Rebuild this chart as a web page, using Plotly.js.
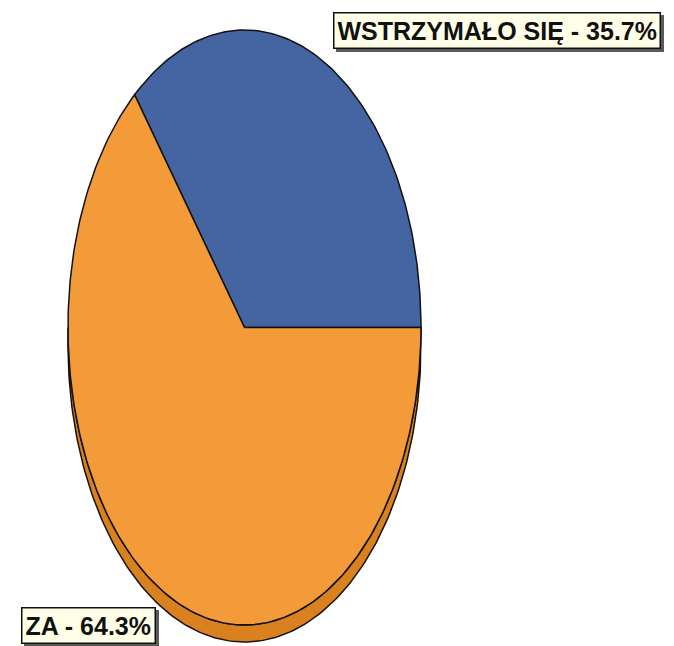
<!DOCTYPE html>
<html><head><meta charset="utf-8">
<script src="https://cdn.plot.ly/plotly-3.0.1.min.js"></script>
<style>html,body{margin:0;padding:0;background:#fff;}</style>
</head><body><div id="chart" style="width:674px;height:646px;"></div>
<script>
// ---- data ----
const labels = ['WSTRZYMAŁO SIĘ', 'ZA'];
const values = [35.7, 64.3];

// ---- style / geometry ----
const colors = ['#4464A2', '#F29B38'];
const rimColor = '#D9801F';
const CX = 244.5, CY = 327.5, RX = 176.5, RY = 297.5, DEPTH = 17;
const FONT = '"Liberation Sans Narrow", "Arial Narrow", "Liberation Sans", Arial, sans-serif';

function pt(deg, dy) {
  const t = deg * Math.PI / 180;
  return [CX + RX * Math.cos(t), CY - RY * Math.sin(t) + (dy || 0)];
}

const total = values.reduce((a, b) => a + b, 0);
const traces = [];

// rim (front half, below the top face)
{
  const xs = [], ys = [];
  for (let a = 180; a <= 360; a += 1) { const p = pt(a, 0); xs.push(p[0]); ys.push(p[1]); }
  for (let a = 360; a >= 180; a -= 1) { const p = pt(a, DEPTH); xs.push(p[0]); ys.push(p[1]); }
  xs.push(xs[0]); ys.push(ys[0]);
  traces.push({type: 'scatter', mode: 'lines', x: xs, y: ys, fill: 'toself',
    fillcolor: rimColor, line: {color: '#1a1008', width: 1.5}, hoverinfo: 'skip', showlegend: false});
}

// slices (counter-clockwise from 3 o'clock)
let start = 0;
values.forEach((v, i) => {
  const sweep = v / total * 360;
  const xs = [CX], ys = [CY];
  const n = Math.max(2, Math.ceil(sweep));
  for (let k = 0; k <= n; k++) {
    const p = pt(start + sweep * k / n, 0);
    xs.push(p[0]); ys.push(p[1]);
  }
  xs.push(CX); ys.push(CY);
  traces.push({type: 'scatter', mode: 'lines', x: xs, y: ys, fill: 'toself',
    fillcolor: colors[i], line: {color: '#111', width: 1.5}, name: labels[i],
    hoverinfo: 'name', showlegend: false});
  start += sweep;
});

// labels
const labelPos = [
  {x: 497, y: 30.5},
  {x: 88.5, y: 625.5}
];
const annotations = labels.map((lab, i) => ({
  xref: 'x', yref: 'y', showarrow: false, xanchor: 'center', yanchor: 'middle',
  x: labelPos[i].x, y: labelPos[i].y,
  text: lab + ' - ' + values[i].toFixed(1) + '%',
  font: {family: FONT, size: 25, color: '#111', weight: 'bold'},
  borderpad: 3, borderwidth: 1.5, bgcolor: '#FFFFE8', bordercolor: '#111'
}));

const layout = {
  width: 674, height: 646,
  margin: {l: 0, r: 0, t: 0, b: 0},
  paper_bgcolor: '#fff', plot_bgcolor: '#fff',
  xaxis: {range: [0, 674], visible: false, fixedrange: true},
  yaxis: {range: [646, 0], visible: false, fixedrange: true},
  annotations: annotations,
  showlegend: false
};
Plotly.newPlot('chart', traces, layout, {displayModeBar: false, staticPlot: true}).then(gd => {
  // drop shadow behind each label box
  gd.querySelectorAll('.annotation rect.bg').forEach(r => {
    const s = r.cloneNode(false);
    s.setAttribute('transform', (r.getAttribute('transform') || '') + ' translate(3,3)');
    s.style.fill = '#5a5a5a';
    s.style.stroke = '#5a5a5a';
    s.style.fillOpacity = 1;
    s.style.strokeOpacity = 1;
    r.parentNode.insertBefore(s, r);
  });
});
</script></body></html>
